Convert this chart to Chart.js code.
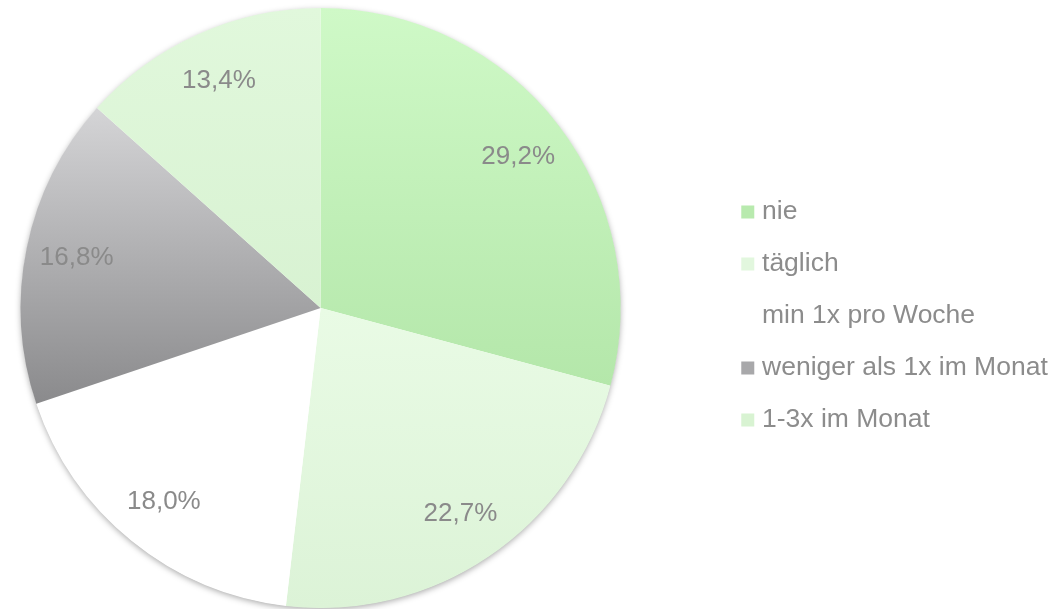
<!DOCTYPE html>
<html>
<head>
<meta charset="utf-8">
<script src="https://cdn.jsdelivr.net/npm/chart.js@4.4.1/dist/chart.umd.min.js"></script>
<style>
  html, body { margin: 0; padding: 0; background: #ffffff; overflow: hidden; }
  #wrap { width: 1056px; height: 609px; position: relative; overflow: hidden; }
  #c { position: absolute; left: -80px; top: 0; }
</style>
</head>
<body>
<div id="wrap"><canvas id="c" width="1140" height="609"></canvas></div>
<script>
// ---- data ----
const categories = ['nie', 'täglich', 'min 1x pro Woche', 'weniger als 1x im Monat', '1-3x im Monat'];
const shares = [29.2, 22.7, 18.0, 16.8, 13.4];

// ---- styles ----
const FONT = '"Liberation Sans", Arial, Helvetica, sans-serif';
const TEXT_COLOR = '#8c8c8c';
// vertical gradient stops over the whole pie (0 = top, 1 = bottom)
const sliceStops = [
  [[0, 'rgb(207,249,199)'], [0.63, 'rgb(180,231,170)'], [1, 'rgb(174,225,164)']],
  [[0.5, 'rgb(233,251,229)'], [1, 'rgb(220,243,215)']],
  [[0, '#ffffff'], [1, '#ffffff']],
  [[0.17, 'rgb(212,212,214)'], [0.66, 'rgb(138,138,140)']],
  [[0, 'rgb(225,248,220)'], [0.5, 'rgb(216,242,210)']]
];
const legendColors = ['rgb(184,234,174)', 'rgb(226,247,222)', '#ffffff', 'rgb(168,168,170)', 'rgb(216,243,210)'];
const fallback = ['rgb(190,238,180)', 'rgb(228,249,224)', '#ffffff', 'rgb(170,170,172)', 'rgb(220,245,215)'];

function sliceColor(ctx) {
  const chart = ctx.chart;
  const ca = chart.chartArea;
  const i = ctx.dataIndex;
  if (!ca) return fallback[i];
  const cy = (ca.top + ca.bottom) / 2;
  const r = Math.min(ca.right - ca.left, ca.bottom - ca.top) / 2;
  const g = chart.ctx.createLinearGradient(0, cy - r, 0, cy + r);
  sliceStops[i].forEach(s => g.addColorStop(s[0], s[1]));
  return g;
}

const shadowPlugin = {
  id: 'pieShadow',
  beforeDatasetsDraw(chart) {
    const meta = chart.getDatasetMeta(0);
    if (!meta.data.length) return;
    const a = meta.data[0];
    const ctx = chart.ctx;
    ctx.save();
    ctx.shadowColor = 'rgba(0,0,0,0.35)';
    ctx.shadowBlur = 6;
    ctx.shadowOffsetX = 0;
    ctx.shadowOffsetY = 2;
    ctx.fillStyle = '#ffffff';
    ctx.beginPath();
    ctx.arc(a.x, a.y, a.outerRadius - 0.5, 0, Math.PI * 2);
    ctx.fill();
    ctx.restore();
  }
};

const labelPlugin = {
  id: 'sliceLabels',
  afterDatasetsDraw(chart) {
    const meta = chart.getDatasetMeta(0);
    const ctx = chart.ctx;
    ctx.save();
    ctx.font = '26px ' + FONT;
    ctx.fillStyle = '#8a8a8a';
    ctx.textAlign = 'center';
    ctx.textBaseline = 'middle';
    meta.data.forEach((arc, i) => {
      const mid = (arc.startAngle + arc.endAngle) / 2;
      const rr = arc.outerRadius * 0.83;
      const x = arc.x + Math.cos(mid) * rr;
      const y = arc.y + Math.sin(mid) * rr;
      const txt = shares[i].toFixed(1).replace('.', ',') + '%';
      ctx.fillText(txt, x, y);
    });
    ctx.restore();
  }
};

new Chart(document.getElementById('c'), {
  type: 'pie',
  data: {
    labels: categories,
    datasets: [{
      data: shares,
      backgroundColor: sliceColor,
      borderWidth: 0
    }]
  },
  options: {
    responsive: false,
    animation: false,
    events: [],
    layout: { padding: { left: 0, right: 2.25, top: 8, bottom: 1 } },
    plugins: {
      tooltip: { enabled: false },
      legend: {
        position: 'right',
        align: 'center',
        title: { display: true, text: '', padding: 2, font: { size: 10 } },
        labels: {
          usePointStyle: true,
          pointStyle: 'rect',
          boxWidth: 2,
          boxHeight: 13,
          padding: 25.5,
          color: TEXT_COLOR,
          font: { family: FONT, size: 26.5 },
          generateLabels(chart) {
            const items = Chart.overrides.pie.plugins.legend.labels.generateLabels(chart);
            items.forEach((it, i) => {
              it.fillStyle = legendColors[i];
              it.strokeStyle = legendColors[i];
              it.lineWidth = 0;
            });
            return items;
          }
        }
      }
    }
  },
  plugins: [shadowPlugin, labelPlugin]
});
</script>
</body>
</html>
